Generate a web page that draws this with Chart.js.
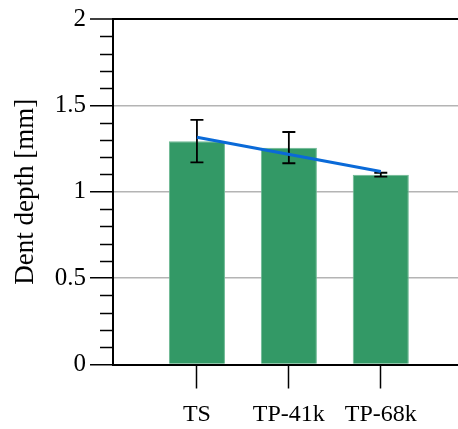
<!DOCTYPE html>
<html>
<head>
<meta charset="utf-8">
<script src="https://cdn.jsdelivr.net/npm/chart.js@4/dist/chart.umd.min.js"></script>
<style>
  html, body { margin: 0; padding: 0; background: #fff; }
  #wrap { width: 458px; height: 429px; }
</style>
</head>
<body>
<div id="wrap"><canvas id="dentChart" width="458" height="429"></canvas></div>
<script>
const categories = ['TS', 'TP-41k', 'TP-68k'];
const depthValues = [1.293, 1.254, 1.098];
const errLow = [1.170, 1.165, 1.087];
const errHigh = [1.416, 1.346, 1.110];
const trendValues = [1.315, 1.117];   // fitted line, first and last category
const yTicks = [0, 0.5, 1, 1.5, 2];

const serif = "'Liberation Serif', 'Times New Roman', serif";

// minor ticks on the y axis every 0.1
const minorTicks = {
    id: 'minorTicks',
    afterDraw(chart) {
        const y = chart.scales.y;
        const ctx = chart.ctx;
        ctx.save();
        ctx.strokeStyle = '#000';
        ctx.lineWidth = 1.5;
        for (let k = 1; k < 20; k++) {
            if (k % 5 === 0) continue;
            const py = Math.round(y.getPixelForValue(k / 10)) + 0.5;
            ctx.beginPath();
            ctx.moveTo(chart.chartArea.left - 13, py);
            ctx.lineTo(chart.chartArea.left, py);
            ctx.stroke();
        }
        ctx.restore();
    }
};

// error bars, drawn after the bars but under the trend line
const errorBars = {
    id: 'errorBars',
    afterDatasetDraw(chart, args) {
        if (args.index !== 0) return;
        const xs = chart.scales.x, ys = chart.scales.y;
        const ctx = chart.ctx;
        ctx.save();
        ctx.strokeStyle = '#000';
        ctx.lineWidth = 1.8;
        categories.forEach((c, i) => {
            const px = xs.getPixelForValue(i + 1);
            const lo = ys.getPixelForValue(errLow[i]);
            const hi = ys.getPixelForValue(errHigh[i]);
            ctx.beginPath();
            ctx.moveTo(px, lo); ctx.lineTo(px, hi);
            ctx.moveTo(px - 6.5, lo); ctx.lineTo(px + 6.5, lo);
            ctx.moveTo(px - 6.5, hi); ctx.lineTo(px + 6.5, hi);
            ctx.stroke();
        });
        ctx.restore();
    }
};

function drawChart() {
    const ctx = document.getElementById('dentChart').getContext('2d');
    new Chart(ctx, {
        data: {
            datasets: [{
                type: 'bar',
                order: 1,
                data: depthValues.map((v, i) => ({ x: i + 1, y: v })),
                backgroundColor: '#339966',
                borderColor: '#6cb893',
                borderWidth: 1,
                categoryPercentage: 1,
                barPercentage: 0.61
            }, {
                type: 'line',
                order: 0,
                data: [{ x: 1, y: trendValues[0] }, { x: categories.length, y: trendValues[1] }],
                borderColor: '#0a6ad8',
                borderWidth: 3,
                pointRadius: 0,
                fill: false
            }]
        },
        options: {
            responsive: false,
            animation: false,
            layout: { padding: { top: 14, right: 0, left: 0, bottom: 0 } },
            plugins: { legend: { display: false }, tooltip: { enabled: false } },
            scales: {
                x: {
                    type: 'linear',
                    min: 0.087,
                    max: 3.84,
                    offset: false,
                    afterBuildTicks: s => { s.ticks = categories.map((c, i) => ({ value: i + 1 })); },
                    afterFit: s => { s.height = 64.5; },
                    border: { color: '#000', width: 2 },
                    grid: { offset: false, drawOnChartArea: false, tickLength: 24, tickColor: '#000', tickWidth: 1.5 },
                    ticks: {
                        autoSkip: false,
                        maxRotation: 0,
                        padding: 12,
                        color: '#000',
                        font: { family: serif, size: 24 },
                        callback: v => categories[v - 1]
                    }
                },
                y: {
                    min: 0,
                    max: 2,
                    afterBuildTicks: s => { s.ticks = yTicks.map(v => ({ value: v })); },
                    afterFit: s => { s.width = 113; },
                    border: { color: '#000', width: 2 },
                    grid: {
                        tickLength: 23,
                        tickColor: '#000',
                        tickWidth: 1.5,
                        color: c => c.tick.value === 2 ? '#000' : (c.tick.value === 0 ? 'rgba(0,0,0,0)' : '#b4b4b4'),
                        lineWidth: c => c.tick.value === 2 ? 2 : 1.5
                    },
                    ticks: {
                        padding: 4,
                        color: '#000',
                        font: { family: serif, size: 25 },
                        callback: v => String(v)
                    },
                    title: {
                        display: true,
                        text: 'Dent depth [mm]',
                        color: '#000',
                        font: { family: serif, size: 27 },
                        padding: { top: 10, bottom: 0 }
                    }
                }
            }
        },
        plugins: [minorTicks, errorBars]
    });
}

document.fonts.load("24px 'Liberation Serif'").then(drawChart, drawChart);
</script>
</body>
</html>
